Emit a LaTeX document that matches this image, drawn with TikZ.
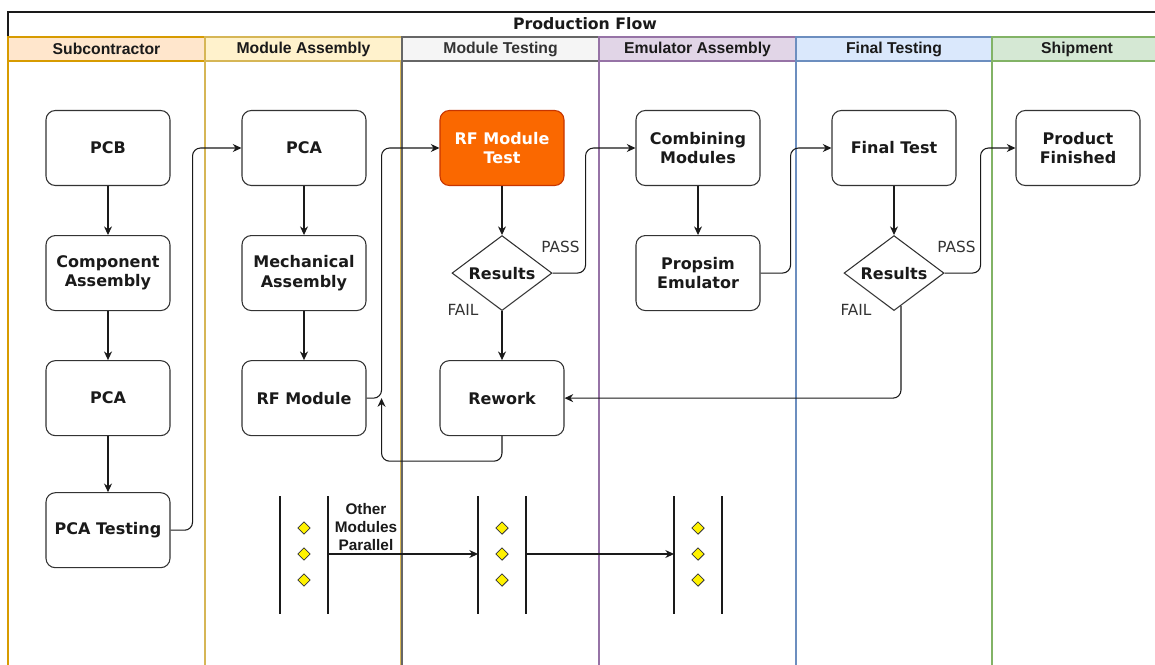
\documentclass[tikz,border=0pt]{standalone}
\usepackage{fontspec}
\setmainfont{DejaVu Sans}
\newfontfamily\lanefont{Liberation Sans}
\usepackage{xcolor}
\usepackage{tikz}
\usetikzlibrary{arrows.meta,positioning,shapes.geometric}
\definecolor{ink}{HTML}{1A1A1A}
\definecolor{rim}{HTML}{333333}
\definecolor{hot}{HTML}{FA6800}
\definecolor{hotrim}{HTML}{C73500}
\definecolor{subFill}{HTML}{FFE6CC}
\definecolor{subLine}{HTML}{D79B00}
\definecolor{asmFill}{HTML}{FFF2CC}
\definecolor{asmLine}{HTML}{D6B656}
\definecolor{tstFill}{HTML}{F5F5F5}
\definecolor{tstLine}{HTML}{666666}
\definecolor{emuFill}{HTML}{E1D5E7}
\definecolor{emuLine}{HTML}{9673A6}
\definecolor{finFill}{HTML}{DAE8FC}
\definecolor{finLine}{HTML}{6C8EBF}
\definecolor{shpFill}{HTML}{D5E8D4}
\definecolor{shpLine}{HTML}{82B366}
\tikzset{
  stage/.style={
    draw=rim, fill=white, rounded corners=7pt, line width=0.8pt,
    minimum width=93pt, minimum height=56.25pt, align=center,
    inner sep=2pt, font=\bfseries\fontsize{12}{14.5}\selectfont\color{ink}},
  hotbox/.style={draw=hotrim, fill=hot, font=\bfseries\fontsize{12}{14.5}\selectfont\color{white}},
  check/.style={
    diamond, aspect=1.333, draw=rim, fill=white, line width=0.8pt, inner sep=0pt,
    minimum width=75pt, minimum height=56.25pt,
    font=\bfseries\fontsize{12}{14.5}\selectfont\color{ink}},
  flow/.style={-{Stealth[length=6.5pt,width=6pt]}, line width=0.8pt, color=ink},
  verdict/.style={font=\fontsize{11.5}{14}\selectfont\color{rim}},
  lanehead/.style={
    line width=0.9pt, minimum height=18pt,
    inner sep=0pt, font=\lanefont\bfseries\fontsize{11.8}{13}\selectfont},
  bar/.style={line width=0.9pt, color=ink},
  token/.style={diamond, draw=rim, fill=yellow, line width=0.6pt,
    inner sep=0pt, minimum width=9.5pt, minimum height=9.5pt},
}

\begin{document}
\begin{tikzpicture}[x=0.75pt, y=-0.75pt, node distance=36.75pt]
  \clip (0,0) rectangle (1155,664);
  \fill[white] (0,0) rectangle (1155,664);

  % pool and lanes
  \draw[ink, line width=1pt] (8,700) -- (8,12) -- (1162,12) -- (1162,700);
  \node[font=\bfseries\fontsize{11.8}{14}\selectfont\color{ink}] (title) at (585,24) {Production Flow};
  \foreach \x/\w/\fl/\ln/\tc/\name [count=\i] in {
      8/197/subFill/subLine/ink/Subcontractor,
      205/197/asmFill/asmLine/ink/Module Assembly,
      402/197/tstFill/tstLine/rim/Module Testing,
      599/197/emuFill/emuLine/ink/Emulator Assembly,
      796/196/finFill/finLine/ink/Final Testing,
      992/170/shpFill/shpLine/ink/Shipment} {
    \node[lanehead, minimum width=\w*0.75pt, fill=\fl, draw=\ln, text=\tc]
      (head\i) at (\x+\w/2,49) {\name};
    \draw[\ln, line width=0.9pt] (\x,37) -- (\x,700);
  }
  \draw[asmLine, line width=0.9pt] (400.5,61) -- (400.5,700);

  % main flow
  \node[stage] (pcb) at (108,148) {PCB};
  \node[stage, below=of pcb] (compasm) {Component\\Assembly};
  \node[stage, below=of compasm] (pcasub) {PCA};
  \node[stage, below=42pt of pcasub] (pcatest) {PCA Testing};

  \node[stage] (pcamod) at (304,148) {PCA};
  \node[stage, below=of pcamod] (mechasm) {Mechanical\\Assembly};
  \node[stage, below=of mechasm] (rfmod) {RF Module};

  \node[stage, hotbox] (rftest) at (502,148) {RF Module\\Test};
  \node[check, below=of rftest] (res1) {Results};
  \node[stage, below=of res1] (rework) {Rework};

  \node[stage] (combine) at (698,148) {Combining\\Modules};
  \node[stage, below=of combine] (propsim) {Propsim\\Emulator};

  \node[stage] (finaltest) at (894,148) {Final Test};
  \node[check, below=of finaltest] (res2) {Results};

  \node[stage] (product) at (1078,148) {Product\\Finished};

  \node[verdict] (pass1) at ([shift={(8,-26)}]res1.east) {PASS};
  \node[verdict] (fail1) at ([shift={(-39,-1)}]res1.south) {FAIL};
  \node[verdict] (pass2) at ([shift={(12,-26)}]res2.east) {PASS};
  \node[verdict] (fail2) at ([shift={(-38,-1)}]res2.south) {FAIL};

  \coordinate (rfhop) at ([xshift=11.25pt]rfmod.east);

  \draw[flow] (pcb) -- (compasm);
  \draw[flow] (compasm) -- (pcasub);
  \draw[flow] (pcasub) -- (pcatest);
  \draw[flow, rounded corners=6pt] (pcatest.east) -- ++(22,0) |- (pcamod.west);
  \draw[flow] (pcamod) -- (mechasm);
  \draw[flow] (mechasm) -- (rfmod);
  \draw[flow, rounded corners=6pt] (rfmod.east) -- (rfhop) |- (rftest.west);
  \draw[flow] (rftest) -- (res1);
  \draw[flow, rounded corners=6pt] (res1.east) -- ++(33,0) |- (combine.west);
  \draw[flow] (res1) -- (rework);
  \draw[flow, rounded corners=6pt] (rework.south) -- ++(0,25) -| (rfhop);
  \draw[flow] (combine) -- (propsim);
  \draw[flow, rounded corners=6pt] (propsim.east) -- ++(30,0) |- (finaltest.west);
  \draw[flow] (finaltest) -- (res2);
  \draw[flow, rounded corners=6pt] (res2.east) -- ++(36,0) |- (product.west);
  \draw[flow, rounded corners=6pt] (res2.-78) |- (rework.east);

  % parallel modules
  \foreach \x [count=\i] in {304,502,698} {
    \draw[bar] (\x-24,496) -- (\x-24,614);
    \draw[bar] (\x+24,496) -- (\x+24,614);
    \foreach \y [count=\j] in {528,554,580}
      \node[token] (tok\i\j) at (\x,\y) {};
    \coordinate (parw\i) at (\x-24,554);
    \coordinate (pare\i) at (\x+24,554);
  }
  \node[font=\lanefont\bfseries\fontsize{11.5}{13.5}\selectfont, align=center, text=ink]
    (othermods) at (366,527) {Other\\Modules\\Parallel};
  \draw[flow] (pare1) -- (parw2);
  \draw[flow] (pare2) -- (parw3);
\end{tikzpicture}
\end{document}
